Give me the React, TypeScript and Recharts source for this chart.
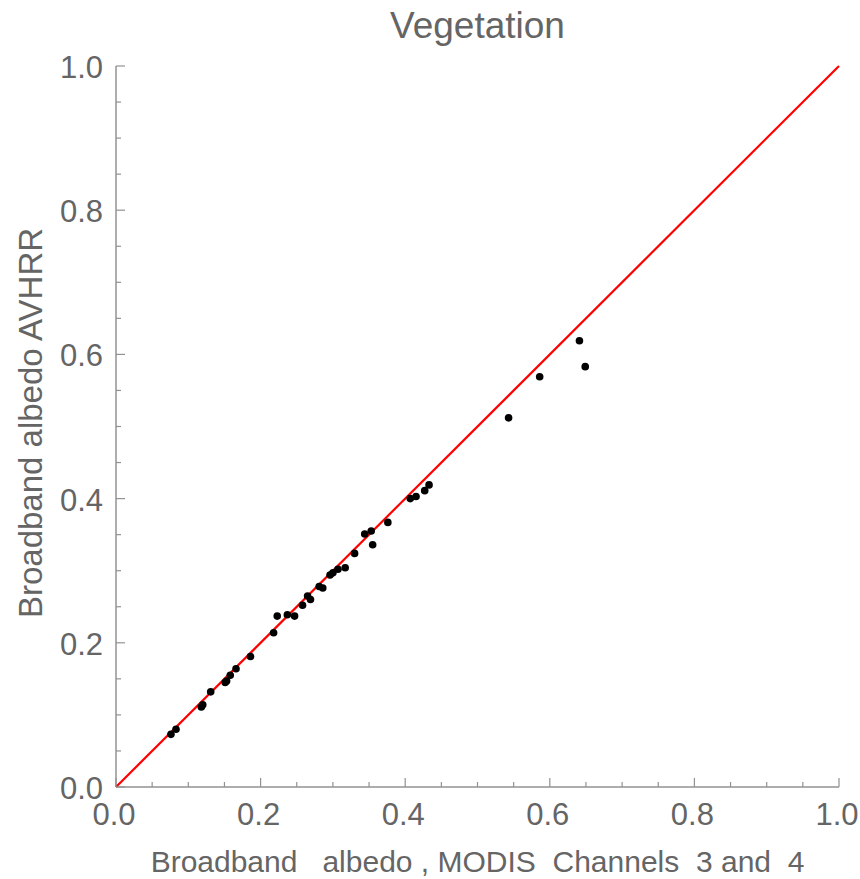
import React from "react";
import { Scatter, ScatterChart, XAxis, YAxis } from "recharts";

const TITLE = "Vegetation";
const X_LABEL = "Broadband   albedo , MODIS  Channels  3 and  4";
const Y_LABEL = "Broadband albedo AVHRR";

// tick positions (0.05 steps, labelled every 0.2)
const TICKS = [
  0, 0.05, 0.1, 0.15, 0.2, 0.25, 0.3, 0.35, 0.4, 0.45, 0.5, 0.55, 0.6, 0.65, 0.7, 0.75, 0.8,
  0.85, 0.9, 0.95, 1,
];
const MAJOR_TICKS = [0, 0.2, 0.4, 0.6, 0.8, 1];

const MODIS = [
  0.076, 0.083, 0.118, 0.12, 0.131, 0.151, 0.153, 0.158, 0.166, 0.186, 0.218, 0.223, 0.237,
  0.247, 0.258, 0.265, 0.269, 0.281, 0.286, 0.296, 0.3, 0.307, 0.317, 0.33, 0.344, 0.353,
  0.355, 0.376, 0.407, 0.415, 0.427, 0.433, 0.543, 0.586, 0.641, 0.649,
];
const AVHRR = [
  0.073, 0.08, 0.111, 0.114, 0.132, 0.145, 0.147, 0.155, 0.164, 0.181, 0.214, 0.237, 0.239,
  0.237, 0.252, 0.265, 0.26, 0.278, 0.276, 0.294, 0.297, 0.302, 0.304, 0.324, 0.351, 0.355,
  0.336, 0.367, 0.4, 0.403, 0.411, 0.419, 0.512, 0.569, 0.619, 0.583,
];
const ONE_TO_ONE = [
  { x: 0, y: 0 },
  { x: 1, y: 1 },
];

const points = MODIS.map((x, i) => ({ x, y: AVHRR[i] }));

const INK = "#656565";
const FRAME = "#929292";
const FONT = "'Liberation Sans', Arial, sans-serif";

const isMajor = (v: number) => MAJOR_TICKS.some((m) => Math.abs(m - v) < 1e-6);
const tickLen = (v: number) => (isMajor(v) ? 9 : 5);

function BottomTick({ x, y, payload }: any) {
  const v = payload.value as number;
  return (
    <g>
      <line x1={x} x2={x} y1={y} y2={y - tickLen(v)} stroke={FRAME} strokeWidth={1.2} />
      {isMajor(v) && (
        <text x={x - 2} y={y + 38} textAnchor="middle" fill={INK} fontSize={31} fontFamily={FONT}>
          {v.toFixed(1)}
        </text>
      )}
    </g>
  );
}

function LeftTick({ x, y, payload }: any) {
  const v = payload.value as number;
  return (
    <g>
      <line x1={x} x2={x + tickLen(v)} y1={y} y2={y} stroke={FRAME} strokeWidth={1.2} />
      {isMajor(v) && (
        <text x={x - 13} y={y + 12} textAnchor="end" fill={INK} fontSize={31} fontFamily={FONT}>
          {v.toFixed(1)}
        </text>
      )}
    </g>
  );
}

function TopTick({ x, y, payload }: any) {
  const v = payload.value as number;
  return <line x1={x} x2={x} y1={y} y2={y + tickLen(v)} stroke={FRAME} strokeWidth={1.2} />;
}

function RightTick({ x, y, payload }: any) {
  const v = payload.value as number;
  return <line x1={x} x2={x - tickLen(v)} y1={y} y2={y} stroke={FRAME} strokeWidth={1.2} />;
}

const Dot = ({ cx, cy }: any) => <circle cx={cx} cy={cy} r={3.8} fill="#000" />;

export default function App() {
  return (
    <div
      style={{
        position: "absolute",
        left: 0,
        top: 0,
        width: 860,
        height: 879,
        background: "#fff",
        fontFamily: FONT,
        color: INK,
        overflow: "hidden",
      }}
    >
      <ScatterChart width={860} height={879} margin={{ top: 66, right: 21, bottom: 0, left: 0 }}>
        <XAxis
          xAxisId="b"
          type="number"
          dataKey="x"
          domain={[0, 1]}
          ticks={TICKS}
          interval={0}
          height={92}
          tickSize={0}
          tickMargin={0}
          tickLine={false}
          axisLine={{ stroke: FRAME, strokeWidth: 1.5 }}
          tick={<BottomTick />}
        />
        <XAxis
          xAxisId="t"
          orientation="top"
          type="number"
          dataKey="x"
          domain={[0, 1]}
          ticks={TICKS}
          interval={0}
          height={0}
          tickSize={0}
          tickMargin={0}
          tickLine={false}
          axisLine={{ stroke: FRAME, strokeWidth: 1.5 }}
          tick={<TopTick />}
        />
        <YAxis
          yAxisId="l"
          type="number"
          dataKey="y"
          domain={[0, 1]}
          ticks={TICKS}
          interval={0}
          width={116}
          tickSize={0}
          tickMargin={0}
          tickLine={false}
          axisLine={{ stroke: FRAME, strokeWidth: 1.5 }}
          tick={<LeftTick />}
        />
        <YAxis
          yAxisId="r"
          orientation="right"
          type="number"
          dataKey="y"
          domain={[0, 1]}
          ticks={TICKS}
          interval={0}
          width={0}
          tickSize={0}
          tickMargin={0}
          tickLine={false}
          axisLine={{ stroke: FRAME, strokeWidth: 1.5 }}
          tick={<RightTick />}
        />
        <Scatter
          xAxisId="b"
          yAxisId="l"
          data={ONE_TO_ONE}
          line={{ stroke: "#ff0000", strokeWidth: 2.2 }}
          shape={() => <g />}
          isAnimationActive={false}
        />
        <Scatter
          xAxisId="b"
          yAxisId="l"
          data={points}
          shape={<Dot />}
          isAnimationActive={false}
        />
      </ScatterChart>
      <div
        style={{
          position: "absolute",
          top: 4,
          left: 116,
          width: 723,
          textAlign: "center",
          fontSize: 37,
          lineHeight: "44px",
        }}
      >
        {TITLE}
      </div>
      <div
        style={{
          position: "absolute",
          top: 844,
          left: 116,
          width: 723,
          textAlign: "center",
          fontSize: 30,
          lineHeight: "36px",
          whiteSpace: "pre",
        }}
      >
        {X_LABEL}
      </div>
      <div
        style={{
          position: "absolute",
          left: 31,
          top: 423,
          transform: "translate(-50%, -50%) rotate(-90deg)",
          fontSize: 33,
          lineHeight: "36px",
          whiteSpace: "pre",
        }}
      >
        {Y_LABEL}
      </div>
    </div>
  );
}
